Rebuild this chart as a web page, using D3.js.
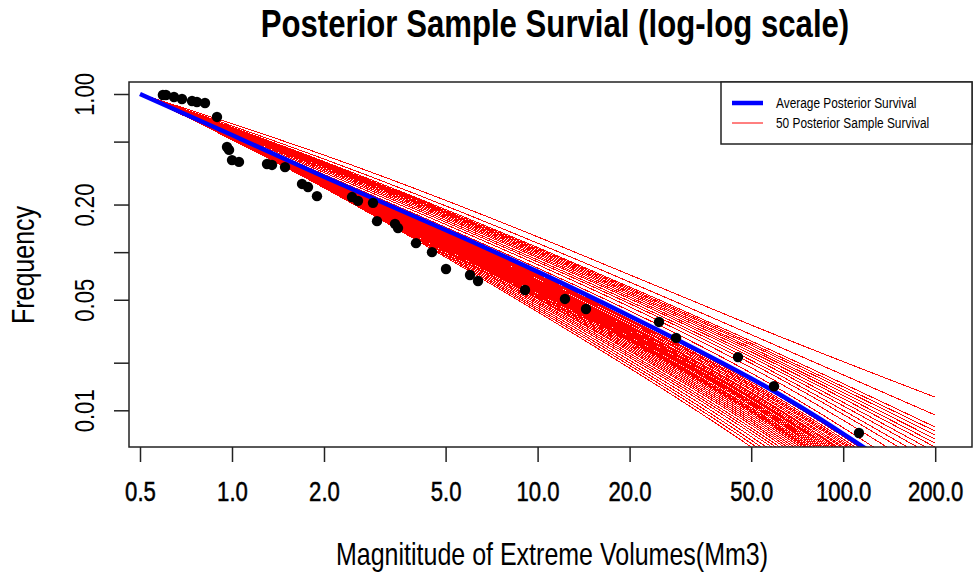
<!DOCTYPE html>
<html>
<head>
<meta charset="utf-8">
<script src="https://cdn.jsdelivr.net/npm/d3@7"></script>
<style>
    body { margin: 0; background: #fff; }
    text { font-family: "Liberation Sans", Arial, sans-serif; fill: #000; }
</style>
</head>
<body>
<svg id="chart" width="974" height="577"></svg>
<script>
// observed extreme volumes (Mm3) and their empirical survival frequency
const obsVolume = [0.594, 0.608, 0.646, 0.686, 0.740, 0.768, 0.816, 0.893, 0.963, 0.978,
    1.00, 1.054, 1.302, 1.352, 1.491, 1.695, 1.773, 1.897, 2.47, 2.584,
    2.893, 2.982, 3.415, 3.493, 4.00, 4.512, 5.015, 6.009, 6.383, 9.095,
    12.29, 14.40, 24.96, 28.38, 45.27, 59.37, 112.6];
const obsFrequency = [0.985, 0.985, 0.957, 0.930, 0.903, 0.890, 0.877, 0.716, 0.462, 0.443,
    0.382, 0.372, 0.361, 0.356, 0.345, 0.270, 0.258, 0.226, 0.223, 0.211,
    0.205, 0.157, 0.151, 0.142, 0.114, 0.100, 0.0782, 0.0717, 0.0657, 0.0576,
    0.0506, 0.0437, 0.0362, 0.0287, 0.0217, 0.0142, 0.00719];

// average posterior survival curve
const meanVolume = [0.5, 1, 2, 5, 10, 20, 50, 100, 200];
const meanSurvival = [1, 0.55, 0.30, 0.138, 0.0753, 0.0395, 0.0159, 0.0071, 0.0029];

// 50 posterior sample survival curves, read at these volumes
const sampleVolume = [0.5, 2, 10, 50, 200];
const sampleSurvival = [
    [1, 0.411, 0.125, 0.0346, 0.0121],
    [1, 0.388, 0.114, 0.0301, 0.00933],
    [1, 0.374, 0.107, 0.0274, 0.00783],
    [1, 0.369, 0.105, 0.0265, 0.00738],
    [1, 0.365, 0.103, 0.0258, 0.00697],
    [1, 0.360, 0.101, 0.0249, 0.00658],
    [1, 0.356, 0.0989, 0.0242, 0.00619],
    [1, 0.351, 0.0968, 0.0234, 0.00585],
    [1, 0.346, 0.0944, 0.0225, 0.00543],
    [1, 0.340, 0.0923, 0.0217, 0.00506],
    [1, 0.334, 0.0893, 0.0207, 0.00463],
    [1, 0.327, 0.0867, 0.0198, 0.00425],
    [1, 0.319, 0.0834, 0.0186, 0.00378],
    [1, 0.310, 0.0793, 0.0172, 0.00326],
    [1, 0.299, 0.0745, 0.0156, 0.00275],
    [1, 0.297, 0.0731, 0.0151, 0.00264],
    [1, 0.296, 0.0719, 0.0147, 0.00255],
    [1, 0.295, 0.0710, 0.0144, 0.00248],
    [1, 0.294, 0.0701, 0.0141, 0.00242],
    [1, 0.292, 0.0690, 0.0137, 0.00233],
    [1, 0.292, 0.0682, 0.0134, 0.00227],
    [1, 0.290, 0.0670, 0.0130, 0.00219],
    [1, 0.289, 0.0662, 0.0128, 0.00213],
    [1, 0.288, 0.0655, 0.0125, 0.00208],
    [1, 0.288, 0.0647, 0.0122, 0.00203],
    [1, 0.286, 0.0640, 0.0120, 0.00198],
    [1, 0.286, 0.0631, 0.0118, 0.00193],
    [1, 0.284, 0.0624, 0.0115, 0.00188],
    [1, 0.284, 0.0617, 0.0113, 0.00183],
    [1, 0.282, 0.0610, 0.0111, 0.00179],
    [1, 0.282, 0.0603, 0.0109, 0.00174],
    [1, 0.281, 0.0596, 0.0107, 0.00170],
    [1, 0.280, 0.0589, 0.0104, 0.00166],
    [1, 0.279, 0.0582, 0.0102, 0.00161],
    [1, 0.278, 0.0575, 0.0100, 0.00157],
    [1, 0.277, 0.0569, 0.00984, 0.00153],
    [1, 0.276, 0.0561, 0.00964, 0.00150],
    [1, 0.275, 0.0552, 0.00938, 0.00144],
    [1, 0.274, 0.0542, 0.00910, 0.00139],
    [1, 0.272, 0.0533, 0.00883, 0.00133],
    [1, 0.271, 0.0524, 0.00857, 0.00129],
    [1, 0.270, 0.0514, 0.00832, 0.00124],
    [1, 0.269, 0.0506, 0.00807, 0.00119],
    [1, 0.267, 0.0493, 0.00774, 0.00113],
    [1, 0.265, 0.0482, 0.00745, 0.00108],
    [1, 0.263, 0.0471, 0.00716, 0.00102],
    [1, 0.261, 0.0457, 0.00681, 0.00096],
    [1, 0.259, 0.0444, 0.00647, 0.00090],
    [1, 0.257, 0.0432, 0.00617, 0.00085],
    [1, 0.255, 0.0419, 0.00586, 0.00079]
];

// axis ticks
const xTicks = [0.5, 1, 2, 5, 10, 20, 50, 100, 200];
const yTicks = [1, 0.5, 0.2, 0.1, 0.05, 0.02, 0.01];
const yTickLabels = { 1: "1.00", 0.2: "0.20", 0.05: "0.05", 0.01: "0.01" };

// the original device font is a narrow sans, squeeze regular glyphs to match
const narrow = 0.82;

const svg = d3.select("#chart");

// plot region (R style box)
const box = { left: 129, top: 82, right: 972, bottom: 447 };

const xScale = d3.scaleLog()
    .domain([0.5, 200])
    .range([140, 935.2]);

const yScale = d3.scaleLog()
    .domain([1, 0.01])
    .range([94, 410.3]);

svg.append("defs").append("clipPath")
    .attr("id", "plot-clip")
    .append("rect")
    .attr("x", box.left)
    .attr("y", box.top)
    .attr("width", box.right - box.left)
    .attr("height", box.bottom - box.top);

const plot = svg.append("g").attr("clip-path", "url(#plot-clip)");

const line = d3.line()
    .x(d => xScale(d[0]))
    .y(d => yScale(d[1]))
    .curve(d3.curveNatural);

// sample curves
plot.selectAll(".sample")
    .data(sampleSurvival)
    .enter()
    .append("path")
    .attr("class", "sample")
    .attr("d", s => line(sampleVolume.map((v, i) => [v, s[i]])))
    .attr("fill", "none")
    .attr("stroke", "#ff0000")
    .attr("stroke-width", 1)
    .attr("shape-rendering", "crispEdges");

// average curve
plot.append("path")
    .attr("d", line(meanVolume.map((v, i) => [v, meanSurvival[i]])))
    .attr("fill", "none")
    .attr("stroke", "#0000ff")
    .attr("stroke-width", 4.5);

// observed points
plot.selectAll(".obs")
    .data(obsVolume)
    .enter()
    .append("circle")
    .attr("class", "obs")
    .attr("cx", d => xScale(d))
    .attr("cy", (d, i) => yScale(obsFrequency[i]))
    .attr("r", 5.2)
    .attr("fill", "#000");

// box
svg.append("rect")
    .attr("x", box.left)
    .attr("y", box.top)
    .attr("width", box.right - box.left)
    .attr("height", box.bottom - box.top)
    .attr("fill", "none")
    .attr("stroke", "#222")
    .attr("stroke-width", 1.5);

// x axis
const xAxis = svg.append("g")
    .attr("transform", `translate(0,${box.bottom})`)
    .call(d3.axisBottom(xScale)
        .tickValues(xTicks)
        .tickSize(15)
        .tickPadding(20)
        .tickFormat(d => d.toFixed(1)));
xAxis.select(".domain").remove();
xAxis.selectAll("line").attr("stroke", "#222").attr("stroke-width", 1.5);
xAxis.selectAll("text")
    .attr("transform", `scale(${narrow},1)`)
    .attr("fill", "#000")
    .attr("stroke", "#000")
    .attr("stroke-width", 0.5)
    .style("font-size", "27px");

// y axis
const yAxis = svg.append("g")
    .attr("transform", `translate(${box.left},0)`)
    .call(d3.axisLeft(yScale)
        .tickValues(yTicks)
        .tickSize(15)
        .tickFormat(d => yTickLabels[d] || ""));
yAxis.select(".domain").remove();
yAxis.selectAll("line").attr("stroke", "#222").attr("stroke-width", 1.5);
yAxis.selectAll("text")
    .attr("x", null)
    .attr("dy", null)
    .attr("transform", `translate(-35,0) rotate(-90) scale(${narrow},1)`)
    .attr("text-anchor", "middle")
    .attr("fill", "#000")
    .style("font-size", "27px");

// title and axis titles
svg.append("text")
    .attr("transform", `translate(555,37) scale(${narrow},1)`)
    .attr("text-anchor", "middle")
    .style("font-size", "38px")
    .style("font-weight", "bold")
    .text("Posterior Sample Survial (log-log scale)");

svg.append("text")
    .attr("transform", `translate(552,565) scale(${narrow},1)`)
    .attr("text-anchor", "middle")
    .style("font-size", "30.5px")
    .text("Magnititude of Extreme Volumes(Mm3)");

svg.append("text")
    .attr("transform", `translate(34,265) rotate(-90) scale(${narrow},1)`)
    .attr("text-anchor", "middle")
    .style("font-size", "30.5px")
    .text("Frequency");

// legend
const legend = svg.append("g");
legend.append("rect")
    .attr("x", 721)
    .attr("y", box.top)
    .attr("width", box.right - 721)
    .attr("height", 62)
    .attr("fill", "#fff")
    .attr("stroke", "#222")
    .attr("stroke-width", 1.5);

const legendItems = [
    { label: "Average Posterior Survival", color: "#0000ff", width: 4.5 },
    { label: "50 Posterior Sample Survival", color: "#ff0000", width: 1 }
];

legendItems.forEach((d, i) => {
    const y = 103 + i * 20;
    legend.append("line")
        .attr("x1", 732)
        .attr("x2", 763)
        .attr("y1", y)
        .attr("y2", y)
        .attr("stroke", d.color)
        .attr("stroke-width", d.width);
    legend.append("text")
        .attr("transform", `translate(776,${y + 5}) scale(${narrow},1)`)
        .style("font-size", "14.5px")
        .text(d.label);
});
</script>
</body>
</html>
